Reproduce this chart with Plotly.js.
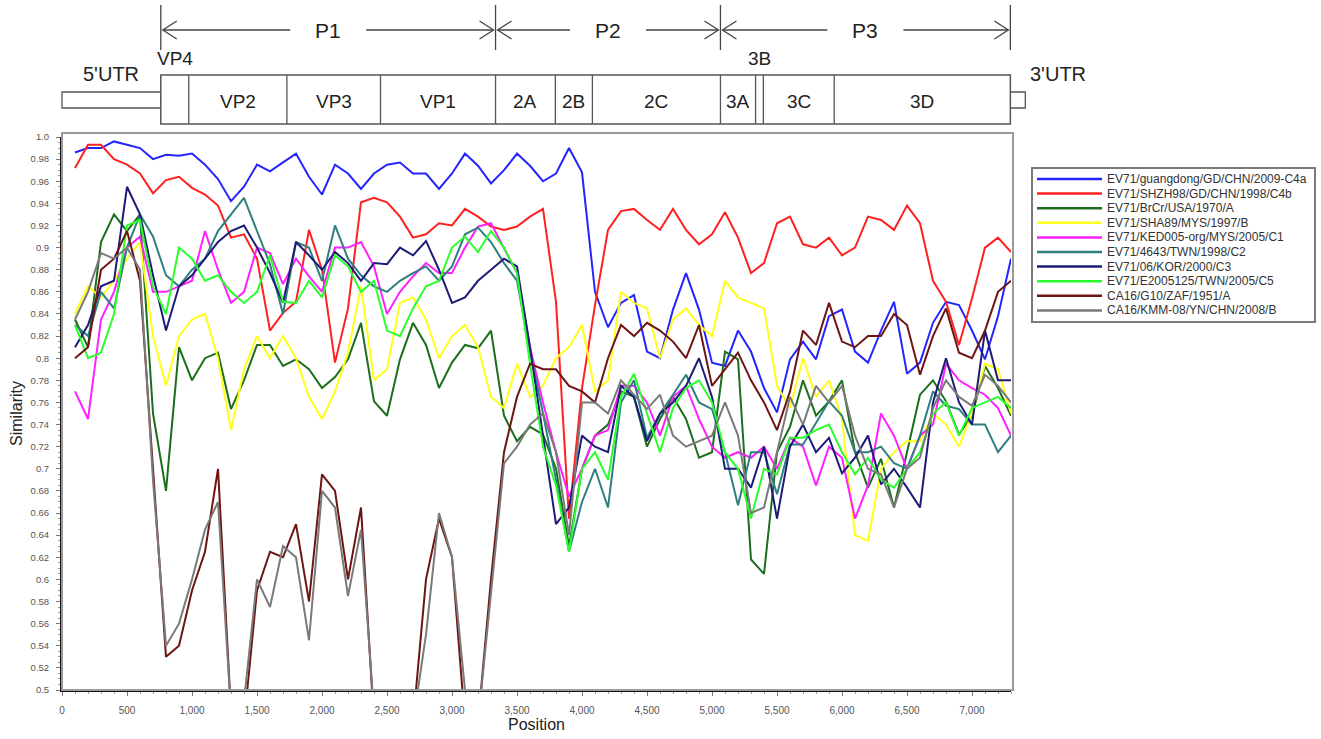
<!DOCTYPE html>
<html><head><meta charset="utf-8">
<script src="https://cdn.plot.ly/plotly-3.0.1.min.js"></script>
<style>html,body{margin:0;padding:0;background:#fff}#chart{width:1321px;height:739px}</style>
</head><body><div id="chart"></div>
<script>
// ---------- DATA ----------
const positions = [100,200,300,400,500,600,700,800,900,1000,1100,1200,1300,1400,1500,1600,1700,1800,1900,2000,2100,2200,2300,2400,2500,2600,2700,2800,2900,3000,3100,3200,3300,3400,3500,3600,3700,3800,3900,4000,4100,4200,4300,4400,4500,4600,4700,4800,4900,5000,5100,5200,5300,5400,5500,5600,5700,5800,5900,6000,6100,6200,6300,6400,6500,6600,6700,6800,6900,7000,7100,7200,7300];

const seriesNames = ['EV71/guangdong/GD/CHN/2009-C4a','EV71/SHZH98/GD/CHN/1998/C4b','EV71/BrCr/USA/1970/A','EV71/SHA89/MYS/1997/B','EV71/KED005-org/MYS/2005/C1','EV71/4643/TWN/1998/C2','EV71/06/KOR/2000/C3','EV71/E2005125/TWN/2005/C5','CA16/G10/ZAF/1951/A','CA16/KMM-08/YN/CHN/2008/B'];
const seriesColors = ['#2424ff','#ff2020','#1b6e1b','#ffff1a','#ff20ff','#2f7f7f','#1c1c78','#2bff2b','#6e1414','#7a7a7a'];

const c4a = [0.986,0.99,0.99,0.996,0.993,0.99,0.98,0.984,0.983,0.985,0.975,0.962,0.942,0.955,0.975,0.969,0.977,0.985,0.964,0.948,0.975,0.967,0.953,0.967,0.975,0.977,0.967,0.967,0.953,0.967,0.985,0.974,0.958,0.97,0.985,0.974,0.96,0.967,0.99,0.968,0.86,0.828,0.85,0.857,0.806,0.8,0.844,0.877,0.844,0.796,0.793,0.825,0.806,0.773,0.751,0.799,0.815,0.799,0.838,0.844,0.806,0.796,0.825,0.851,0.786,0.796,0.832,0.851,0.848,0.825,0.799,0.838,0.89];
const c4b = [0.972,0.993,0.993,0.98,0.975,0.967,0.949,0.961,0.964,0.954,0.948,0.938,0.909,0.912,0.89,0.825,0.841,0.851,0.916,0.88,0.796,0.845,0.941,0.945,0.941,0.928,0.909,0.912,0.922,0.92,0.935,0.928,0.919,0.916,0.919,0.928,0.935,0.851,0.655,0.773,0.848,0.916,0.933,0.935,0.925,0.916,0.935,0.916,0.903,0.912,0.932,0.909,0.877,0.886,0.922,0.928,0.903,0.9,0.909,0.893,0.9,0.928,0.925,0.916,0.938,0.922,0.87,0.851,0.812,0.854,0.9,0.909,0.896];
const brcrA = [0.835,0.81,0.905,0.93,0.915,0.93,0.75,0.68,0.81,0.78,0.8,0.805,0.754,0.78,0.812,0.812,0.793,0.799,0.79,0.773,0.783,0.799,0.832,0.761,0.748,0.799,0.832,0.812,0.773,0.796,0.812,0.809,0.825,0.748,0.725,0.738,0.731,0.7,0.63,0.7,0.73,0.74,0.77,0.765,0.72,0.745,0.765,0.745,0.71,0.715,0.806,0.799,0.618,0.605,0.715,0.738,0.78,0.748,0.761,0.78,0.715,0.683,0.709,0.665,0.715,0.767,0.78,0.761,0.731,0.748,0.793,0.773,0.748];
const sha89B = [0.84,0.865,0.855,0.87,0.89,0.905,0.82,0.775,0.82,0.835,0.84,0.8,0.735,0.79,0.82,0.8,0.82,0.8,0.765,0.745,0.77,0.805,0.865,0.78,0.79,0.85,0.855,0.835,0.8,0.82,0.83,0.81,0.765,0.755,0.795,0.765,0.775,0.8,0.81,0.83,0.77,0.78,0.86,0.85,0.845,0.8,0.835,0.845,0.83,0.82,0.87,0.855,0.85,0.845,0.775,0.755,0.8,0.765,0.78,0.745,0.64,0.635,0.7,0.715,0.725,0.725,0.75,0.74,0.72,0.75,0.795,0.79,0.75];
const ked005C1 = [0.77,0.745,0.835,0.86,0.9,0.91,0.86,0.86,0.865,0.87,0.915,0.88,0.85,0.86,0.9,0.895,0.867,0.89,0.874,0.86,0.9,0.9,0.905,0.883,0.84,0.86,0.874,0.886,0.877,0.877,0.9,0.919,0.922,0.9,0.877,0.81,0.76,0.715,0.675,0.7,0.73,0.735,0.775,0.775,0.76,0.73,0.765,0.775,0.745,0.72,0.71,0.715,0.71,0.72,0.7,0.728,0.72,0.685,0.72,0.71,0.655,0.685,0.75,0.73,0.7,0.73,0.74,0.795,0.78,0.773,0.767,0.755,0.73];
const twn4643C2 = [0.83,0.82,0.86,0.845,0.9,0.93,0.91,0.875,0.865,0.88,0.89,0.915,0.93,0.945,0.915,0.885,0.84,0.905,0.9,0.87,0.92,0.89,0.875,0.865,0.86,0.87,0.877,0.883,0.87,0.883,0.912,0.918,0.905,0.886,0.87,0.806,0.75,0.69,0.625,0.67,0.7,0.665,0.76,0.78,0.728,0.75,0.767,0.785,0.76,0.754,0.715,0.667,0.715,0.715,0.677,0.722,0.722,0.741,0.761,0.748,0.715,0.715,0.72,0.705,0.7,0.73,0.77,0.757,0.754,0.74,0.74,0.715,0.73];
const korC3 = [0.81,0.83,0.865,0.87,0.955,0.93,0.875,0.825,0.865,0.875,0.89,0.905,0.915,0.92,0.9,0.877,0.85,0.905,0.893,0.88,0.896,0.886,0.87,0.886,0.885,0.9,0.893,0.906,0.88,0.85,0.855,0.87,0.88,0.89,0.883,0.81,0.73,0.65,0.665,0.73,0.72,0.715,0.775,0.765,0.725,0.75,0.76,0.775,0.8,0.765,0.7,0.7,0.683,0.72,0.655,0.72,0.74,0.715,0.728,0.696,0.71,0.73,0.686,0.7,0.683,0.665,0.76,0.8,0.76,0.74,0.825,0.78,0.78];
const e2005C5 = [0.83,0.8,0.805,0.84,0.92,0.925,0.865,0.84,0.9,0.89,0.87,0.875,0.86,0.85,0.86,0.893,0.851,0.85,0.87,0.855,0.893,0.883,0.86,0.87,0.825,0.82,0.845,0.865,0.87,0.9,0.91,0.896,0.915,0.9,0.877,0.795,0.72,0.685,0.625,0.7,0.715,0.69,0.765,0.786,0.75,0.715,0.755,0.773,0.78,0.76,0.715,0.7,0.655,0.7,0.695,0.728,0.728,0.735,0.74,0.715,0.695,0.71,0.69,0.683,0.7,0.715,0.75,0.76,0.73,0.755,0.76,0.765,0.755];
const ca16A = [0.8,0.81,0.88,0.89,0.915,0.87,0.7,0.53,0.54,0.59,0.625,0.7,0.48,0.47,0.59,0.625,0.62,0.65,0.58,0.695,0.68,0.6,0.665,0.47,0.47,0.47,0.47,0.6,0.655,0.62,0.47,0.47,0.6,0.715,0.765,0.795,0.79,0.79,0.775,0.77,0.76,0.8,0.83,0.82,0.832,0.825,0.815,0.8,0.83,0.775,0.79,0.805,0.78,0.76,0.735,0.77,0.825,0.812,0.85,0.815,0.81,0.82,0.82,0.84,0.83,0.785,0.82,0.845,0.805,0.8,0.825,0.86,0.87];
const ca16B = [0.835,0.86,0.895,0.89,0.9,0.88,0.69,0.54,0.56,0.6,0.645,0.67,0.48,0.49,0.6,0.575,0.63,0.62,0.545,0.68,0.665,0.585,0.645,0.48,0.47,0.47,0.47,0.55,0.66,0.62,0.5,0.47,0.59,0.705,0.72,0.74,0.75,0.715,0.64,0.76,0.76,0.75,0.78,0.767,0.754,0.767,0.73,0.72,0.725,0.73,0.76,0.73,0.66,0.665,0.715,0.765,0.74,0.775,0.76,0.775,0.73,0.7,0.695,0.665,0.7,0.71,0.755,0.78,0.765,0.757,0.785,0.775,0.76];

const xTickVals = [0,500,1000,1500,2000,2500,3000,3500,4000,4500,5000,5500,6000,6500,7000];
const xTickText = ['0','500','1,000','1,500','2,000','2,500','3,000','3,500','4,000','4,500','5,000','5,500','6,000','6,500','7,000'];
const yTickVals = [0.5,0.52,0.54,0.56,0.58,0.6,0.62,0.64,0.66,0.68,0.7,0.72,0.74,0.76,0.78,0.8,0.82,0.84,0.86,0.88,0.9,0.92,0.94,0.96,0.98,1.0];
const yTickText = ['0.5','0.52','0.54','0.56','0.58','0.6','0.62','0.64','0.66','0.68','0.7','0.72','0.74','0.76','0.78','0.8','0.82','0.84','0.86','0.88','0.9','0.92','0.94','0.96','0.98','1.0'];

// genome map
const segBounds = [760, 975, 1730, 2450, 3335, 3795, 4080, 5065, 5335, 5395, 5940, 7295];
const segLabels = ['', 'VP2', 'VP3', 'VP1', '2A', '2B', '2C', '3A', '', '3C', '3D'];
const polyBounds = [760, 3335, 5065, 7295];
const polyLabels = ['P1', 'P2', 'P3'];
const utr5 = [0, 760];
const utr3 = [7295, 7410];

// ---------- GEOMETRY HELPERS (layout only) ----------
const L = 62, R = 1011, T = 137, B = 690, XMAX = 7300;
const PW = R - L, PH = B - T;
const px = p => (p - L) / PW;          // pixel x -> paper x
const py = p => (B - p) / PH;          // pixel y -> paper y
const pos = v => v / XMAX;             // genome position -> paper x
const posPx = v => L + v * PW / XMAX;  // genome position -> pixel x

const FONT = 'Liberation Sans, Arial, sans-serif';
const ink = '#3a3a3a';
const shapes = [];
const annotations = [];

function line(x0, y0, x1, y1, color, w) {
  shapes.push({type: 'line', xref: 'paper', yref: 'paper', x0: x0, y0: y0, x1: x1, y1: y1,
    line: {color: color, width: w}});
}
function rect(x0, y0, x1, y1, color, w, fill) {
  shapes.push({type: 'rect', xref: 'paper', yref: 'paper', x0: x0, y0: y0, x1: x1, y1: y1,
    line: {color: color, width: w}, fillcolor: fill || 'rgba(0,0,0,0)'});
}
function text(s, xPaper, yPix, size, anchor) {
  annotations.push({text: s, xref: 'paper', yref: 'paper', x: xPaper, y: py(yPix), showarrow: false,
    xanchor: anchor || 'center', yanchor: 'middle', font: {family: FONT, size: size, color: '#222'}});
}

// plot frame
rect(0, 0, px(1013), py(133), '#9a9a9a', 2);

// genome boxes
const boxTop = 75, boxBot = 124, utrTop = 92, utrBot = 108;
rect(pos(utr5[0]), py(utrBot), pos(utr5[1]), py(utrTop), '#555', 1.3, '#fff');
rect(pos(utr3[0]), py(utrBot), pos(utr3[1]), py(utrTop), '#555', 1.3, '#fff');
rect(pos(segBounds[0]), py(boxBot), pos(segBounds[segBounds.length - 1]), py(boxTop), '#555', 1.5, '#fff');
for (let i = 1; i < segBounds.length - 1; i++) {
  line(pos(segBounds[i]), py(boxBot), pos(segBounds[i]), py(boxTop), '#555', 1.3);
}
for (let i = 0; i < segLabels.length; i++) {
  if (segLabels[i]) text(segLabels[i], pos((segBounds[i] + segBounds[i + 1]) / 2), 101, 19);
}
text('VP4', pos((segBounds[0] + segBounds[1]) / 2), 58, 19);
text('3B', pos((segBounds[8] + segBounds[9]) / 2), 58, 19);
text("5'UTR", px(111), 74, 20);
text("3'UTR", px(1058), 74, 20);

// polyprotein arrows
const arrowY = 30;
for (let i = 0; i < polyBounds.length; i++) {
  line(pos(polyBounds[i]), py(50), pos(polyBounds[i]), py(5), '#444', 1.3);
}
for (let i = 0; i < polyLabels.length; i++) {
  const a = posPx(polyBounds[i]), b = posPx(polyBounds[i + 1]);
  const c = (a + b) / 2;
  const gap = 38;
  line(px(a + 2), py(arrowY), px(c - gap), py(arrowY), '#444', 1.3);
  line(px(c + gap), py(arrowY), px(b - 2), py(arrowY), '#444', 1.3);
  shapes.push({type: 'path', xref: 'paper', yref: 'paper', line: {color: '#444', width: 1.3},
    path: 'M' + px(a + 16) + ',' + py(arrowY - 9) + ' L' + px(a + 2) + ',' + py(arrowY) + ' L' + px(a + 16) + ',' + py(arrowY + 9)});
  shapes.push({type: 'path', xref: 'paper', yref: 'paper', line: {color: '#444', width: 1.3},
    path: 'M' + px(b - 16) + ',' + py(arrowY - 9) + ' L' + px(b - 2) + ',' + py(arrowY) + ' L' + px(b - 16) + ',' + py(arrowY + 9)});
  text(polyLabels[i], px(c), arrowY, 21);
}

// manual legend
const legL = 1032, legR = 1315, legT = 168, legB = 322;
rect(px(legL), py(legB), px(legR), py(legT), '#7a7a7a', 2, '#fff');
for (let i = 0; i < seriesNames.length; i++) {
  const yy = 179 + i * 14.6;
  line(px(1037), py(yy), px(1102), py(yy), seriesColors[i], 2.5);
  annotations.push({text: seriesNames[i], xref: 'paper', yref: 'paper', x: px(1105), y: py(yy),
    showarrow: false, xanchor: 'left', yanchor: 'middle',
    font: {family: FONT, size: 12, color: '#333'}});
}

// ---------- TRACES ----------
const allSeries = [c4a, c4b, brcrA, sha89B, ked005C1, twn4643C2, korC3, e2005C5, ca16A, ca16B];
const traces = allSeries.map((vals, i) => ({
  type: 'scatter', mode: 'lines', x: positions, y: vals, name: seriesNames[i],
  line: {color: seriesColors[i], width: 2}, showlegend: false, hoverinfo: 'x+y+name'
}));

const layout = {
  width: 1321, height: 739,
  margin: {l: L, r: 1321 - R, t: T, b: 739 - B, pad: 0},
  paper_bgcolor: '#fff', plot_bgcolor: '#fff',
  font: {family: FONT, color: ink},
  showlegend: false,
  xaxis: {
    range: [0, XMAX], tickmode: 'array', tickvals: xTickVals, ticktext: xTickText,
    showgrid: false, zeroline: false, showline: true, linecolor: '#111', linewidth: 2,
    ticks: 'outside', ticklen: 4, tickcolor: '#777', tickwidth: 1,
    ticklabelstandoff: 6,
    minor: {dtick: 100, ticks: 'outside', ticklen: 2, tickcolor: '#999'},
    tickfont: {family: FONT, size: 10, color: '#555'},
    title: {text: 'Position', font: {family: FONT, size: 16, color: '#222'}, standoff: 3},
    automargin: false
  },
  yaxis: {
    range: [0.5, 1.0], tickmode: 'array', tickvals: yTickVals, ticktext: yTickText,
    showgrid: false, zeroline: false, showline: true, linecolor: '#111', linewidth: 2,
    ticks: 'outside', ticklen: 4, tickcolor: '#777', tickwidth: 1,
    ticklabelstandoff: 5,
    minor: {dtick: 0.005, ticks: 'outside', ticklen: 2, tickcolor: '#999'},
    tickfont: {family: FONT, size: 9.5, color: '#555'},
    title: {text: 'Similarity', font: {family: FONT, size: 16, color: '#222'}, standoff: 4},
    automargin: false
  },
  shapes: shapes,
  annotations: annotations
};

Plotly.newPlot('chart', traces, layout, {displayModeBar: false, staticPlot: true});
</script>
</body></html>
